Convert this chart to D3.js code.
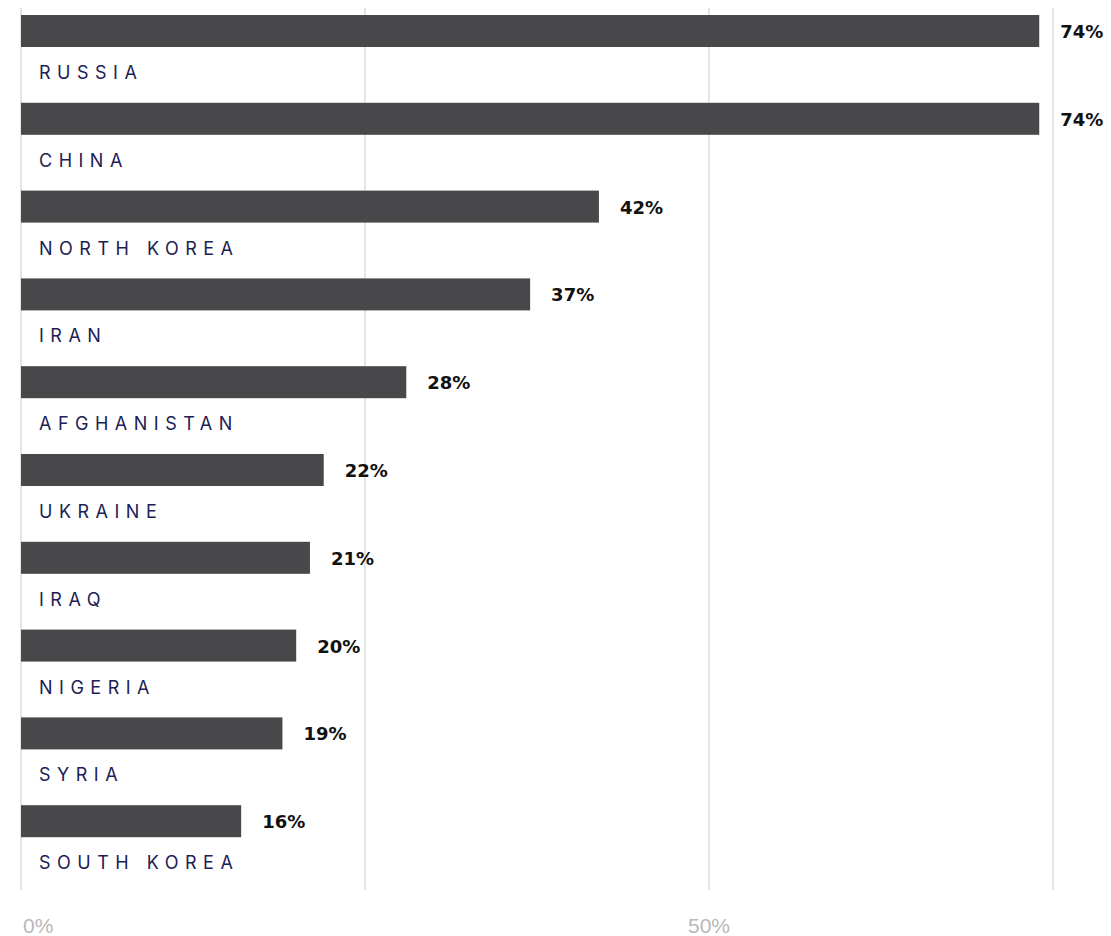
<!DOCTYPE html>
<html>
<head>
<meta charset="utf-8">
<script src="https://cdn.jsdelivr.net/npm/d3@7"></script>
<style>
  html, body { margin: 0; padding: 0; background: #fff; }
  svg { display: block; }
</style>
</head>
<body>
<svg id="chart" width="1111" height="936"></svg>
<script>
const countries = ["RUSSIA", "CHINA", "NORTH KOREA", "IRAN", "AFGHANISTAN", "UKRAINE", "IRAQ", "NIGERIA", "SYRIA", "SOUTH KOREA"];
const values = [74, 74, 42, 37, 28, 22, 21, 20, 19, 16];
const gridTicks = [0, 25, 50, 75];
const tickLabels = ["0%", "50%"];
const tickLabelValues = [0, 50];

const svg = d3.select("#chart");
const x = d3.scaleLinear().domain([0, 50]).range([21, 709]);
const y = d3.scaleBand().domain(countries).range([8, 886]).paddingInner(0);

// gridlines
svg.append("g").selectAll("line").data(gridTicks).join("line")
  .attr("x1", d => x(d)).attr("x2", d => x(d))
  .attr("y1", 8).attr("y2", 890)
  .attr("stroke", "#dddddd").attr("stroke-width", 1.5);

// bars
const rows = svg.append("g").selectAll("g").data(countries).join("g")
  .attr("transform", d => `translate(0,${y(d)})`);

rows.append("rect")
  .attr("x", x(0))
  .attr("y", 7)
  .attr("height", 32)
  .attr("width", (d, i) => x(values[i]) - x(0))
  .attr("fill", "#48484a");

rows.append("text")
  .attr("x", (d, i) => x(values[i]) + 21)
  .attr("y", 30)
  .attr("font-family", "'DejaVu Sans', sans-serif")
  .attr("font-weight", "bold")
  .attr("font-size", 18)
  .attr("fill", "#111")
  .text((d, i) => values[i] + "%");

rows.append("text")
  .attr("x", 39)
  .attr("y", 71)
  .attr("font-family", "Inter, sans-serif")
  .attr("font-size", 18)
  .attr("letter-spacing", "6.5px")
  .attr("fill", "#1b2155")
  .text(d => d);

// tick labels
svg.append("g").selectAll("text").data(tickLabelValues).join("text")
  .attr("x", (d, i) => i === 0 ? x(d) + 2 : x(d))
  .attr("y", 933)
  .attr("text-anchor", (d, i) => i === 0 ? "start" : "middle")
  .attr("font-family", "'Liberation Sans', Arial, sans-serif")
  .attr("font-size", 21)
  .attr("fill", "#b8b8b8")
  .text((d, i) => tickLabels[i]);
</script>
</body>
</html>
